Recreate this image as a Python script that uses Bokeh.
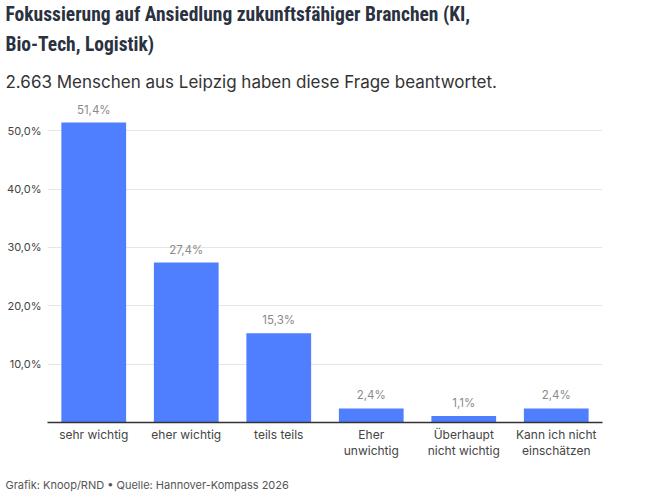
from bokeh.plotting import figure
from bokeh.models import ColumnDataSource, Title, FactorRange, CustomJSTickFormatter
from bokeh.embed import file_html
from bokeh.resources import INLINE
from bokeh.core.properties import value

categories = ["sehr wichtig", "eher wichtig", "teils teils", "Eher\nunwichtig",
              "Überhaupt\nnicht wichtig", "Kann ich nicht\neinschätzen"]
values = [51.4, 27.4, 15.3, 2.4, 1.1, 2.4]
value_labels = ["51,4%", "27,4%", "15,3%", "2,4%", "1,1%", "2,4%"]
y_ticks = [10, 20, 30, 40, 50]

title_line1 = "Fokussierung auf Ansiedlung zukunftsfähiger Branchen (KI,"
title_line2 = "Bio-Tech, Logistik)"
subtitle = "2.663 Menschen aus Leipzig haben diese Frage beantwortet."
footer = "Grafik: Knoop/RND • Quelle: Hannover-Kompass 2026"

BODY = "Inter"
TITLE_FONT = "'Roboto Condensed', 'Liberation Sans Narrow', Roboto"
FL, FR, FT, FB = 47, 34, 101, 73
FW, FH = 555, 321
OFF = -42

p = figure(frame_width=FW, frame_height=FH, x_range=FactorRange(*categories), y_range=(0, 55),
           output_backend="svg", toolbar_location=None,
           min_border_left=FL, min_border_right=FR, min_border_top=FT, min_border_bottom=FB)

src = ColumnDataSource(dict(cat=categories, val=values, lab=value_labels))
p.vbar(x="cat", top="val", width=0.7, source=src, color="#4f7fff", line_color=None)
p.text(x="cat", y="val", text="lab", source=src, text_align="center", text_baseline="alphabetic",
       y_offset=-13, text_font=value(BODY), text_font_size="11.5px", text_color="#8a8a8a")

p.outline_line_color = None
p.xgrid.grid_line_color = None
p.ygrid.grid_line_color = "#e6e6e6"
p.ygrid.grid_line_width = 1
p.ygrid.ticker = y_ticks

p.yaxis.ticker = y_ticks
p.yaxis.formatter = CustomJSTickFormatter(code="return tick.toFixed(1).replace('.', ',') + '%';")
p.yaxis.axis_line_color = None
p.yaxis.major_tick_line_color = None
p.yaxis.minor_tick_line_color = None
p.yaxis.major_tick_out = 0
p.yaxis.major_tick_in = 0
p.yaxis.minor_tick_out = 0
p.yaxis.major_label_standoff = 6
p.yaxis.major_label_text_font = BODY
p.yaxis.major_label_text_font_size = "11px"
p.yaxis.major_label_text_color = "#444444"

p.xaxis.axis_line_color = "#333333"
p.xaxis.axis_line_width = 1.5
p.xaxis.major_tick_line_color = None
p.xaxis.minor_tick_line_color = None
p.xaxis.major_tick_out = 0
p.xaxis.major_tick_in = 0
p.xaxis.minor_tick_out = 0
p.xaxis.major_label_standoff = 4
p.xaxis.major_label_text_font = BODY
p.xaxis.major_label_text_font_size = "12px"
p.xaxis.major_label_text_color = "#444444"
p.xaxis.major_label_text_line_height = 1.1

p.add_layout(Title(text=subtitle, align="left", offset=OFF, standoff=19,
                   text_font=BODY, text_font_size="17px", text_font_style="normal",
                   text_color="#333333"), "above")
p.add_layout(Title(text=title_line2, align="left", offset=OFF, standoff=10,
                   text_font=TITLE_FONT, text_font_size="19.5px", text_font_style="bold",
                   text_color="#2a3140"), "above")
p.add_layout(Title(text=title_line1, align="left", offset=OFF, standoff=0,
                   text_font=TITLE_FONT, text_font_size="19.5px", text_font_style="bold",
                   text_color="#2a3140"), "above")
p.add_layout(Title(text=footer, align="left", offset=OFF, standoff=29,
                   text_font=BODY, text_font_size="11px", text_font_style="normal",
                   text_color="#555555"), "below")

open("out.html", "w").write(file_html(p, INLINE))
